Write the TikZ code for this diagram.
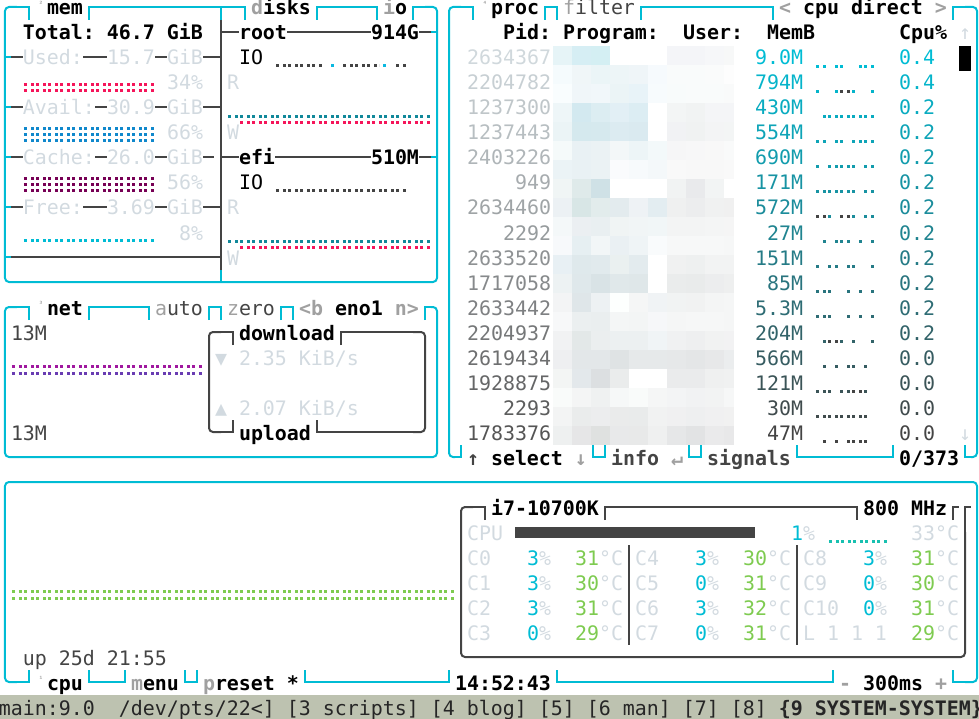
\documentclass[tikz,border=0pt]{standalone}
\usepackage{fontspec}
\setmainfont{DejaVu Sans Mono}
\definecolor{cyl}{HTML}{00BCD4}
\definecolor{dk}{HTML}{444444}
\definecolor{lt}{HTML}{D2DAE0}
\definecolor{tg}{HTML}{A0A0A0}
\definecolor{grn}{HTML}{7ECB50}
\definecolor{pidhi}{HTML}{D0D8DC}
\definecolor{pidlo}{HTML}{555555}
\definecolor{rdm}{HTML}{F5155A}
\definecolor{blm}{HTML}{1088CC}
\definecolor{pum}{HTML}{770055}
\definecolor{tlm}{HTML}{11889A}
\definecolor{mgm}{HTML}{A0189F}
\definecolor{vim}{HTML}{693CB2}
\definecolor{tcm}{HTML}{18C0B0}
\definecolor{bar}{HTML}{BDC2B0}
\tikzset{
  cy/.style={draw=cyl,line width=2pt},
  cyr/.style={cy,rounded corners=4pt},
  gy/.style={draw=dk,line width=2pt},
  gyr/.style={gy,rounded corners=4pt},
  tt/.style={inner sep=0pt,outer sep=0pt,anchor=base west,font=\fontsize{19.93}{24}\selectfont\frenchspacing},
  tte/.style={tt,anchor=base east},
  px/.style={x=1pt,y=-1pt,xshift=-5pt,yshift=7pt},
  suptxt/.style={inner sep=0pt,anchor=base,text=tg,font=\fontsize{7}{8}\selectfont\bfseries},
}
\newcounter{tn}
\newcommand\tx[3]{\stepcounter{tn}\node[tt,name=t\thetn] at (#1-.5,#2+.32) {#3};}
\newcommand\tr[3]{\stepcounter{tn}\node[tte,name=t\thetn] at (#1+.5,#2+.32) {#3};}
\newcommand\topseg[4][cy]{\draw[#1] (#2,#4+.52)--(#2,#4)--(#3,#4)--(#3,#4+.52);}
\newcommand\botseg[4][cy]{\draw[#1] (#2,#4-.48)--(#2,#4)--(#3,#4)--(#3,#4-.48);}
\newcommand\ltx[1]{\textcolor{lt}{#1}}
\newcommand\gr[1]{\textcolor{tg}{\textbf{#1}}}
\newcommand\dg[1]{\textcolor{dk}{#1}}
\newcommand\dotline[4]{\draw[#1,line width=3pt,dash pattern=on 3pt off 4pt on 3pt off 2pt] (#2,#4)--(#3,#4);}
\newcommand\spk[2]{\foreach \k in {#2}{\pgfmathsetmacro\xx{815.8+12*int(\k/2)+7*mod(\k,2)}\pgfmathsetmacro\yy{64.8+25*(#1-2)}\fill[spc] (\xx,\yy) rectangle +(3,3);}}
\newcommand\spr[2]{\pgfmathtruncatemacro\mx{100*(17-#1)/15}\colorlet{spc}{cyl!\mx!dk}\spk{#1}{#2}}
\newcommand\mzrow[2]{\foreach \cc [count=\i from 0] in {#2}{%
    \definecolor{mz}{HTML}{\cc}%
    \pgfmathsetmacro\xa{553+19*\i}%
    \pgfmathsetmacro\xb{\i==9?734:553+19*(\i+1)}%
    \pgfmathsetmacro\ya{46+19*#1}%
    \fill[mz] (\xa,\ya) rectangle (\xb,\ya+19);}}
\newcommand\core[5]{\tx{#1}{#2}{\ltx{#3}}\tx{#1+5}{#2}{\textcolor{cyl}{#4}\ltx{\%}}\tx{#1+9}{#2}{\textcolor{grn}{#5}\ltx{°C}}}
\begin{document}
\begin{tikzpicture}[x=12pt,y=-25pt]
\useasboundingbox (-5/12,-7/25) rectangle (974/12,712/25);
\begin{scope}[px]
\fill[bar] (0,695) rectangle (979,719);
% blurred program and user columns
\mzrow{0}{E6F4F7,D6EEF4,D4EFF3,FFFFFF,FFFFFF,FFFFFF,F4F5F8,F4F5F8,F6F7F9,F7F8F8}
\mzrow{1}{F5FBFD,F0F6F8,EBF5F7,EDF5F7,EFF5F8,F6FAFD,F9FBFB,F9FBFB,FAFBFB,FDFDFD}
\mzrow{2}{F9FDFE,F0F6F9,F1F7FA,EBF4F6,E8F3F8,F7FBFD,F8FBFB,F9FBFB,F9FBFB,F9FAFA}
\mzrow{3}{EEF6F8,D3E9F0,DCEDF2,E2EFF5,DCEDF3,FFFFFF,F3F5F5,F1F3F3,F4F5F7,F4F5F7}
\mzrow{4}{EBF4F6,D5E9EE,D6E9EE,DCEBF1,DAEAF0,FFFFFF,F1F2F4,F0F2F2,F3F4F5,F3F5F5}
\mzrow{5}{F5FAFA,E9F1F4,EBF2F4,F3F7F8,EDF5F7,F3F9FA,F6F6F7,F7F7F8,F8F8F8,F9FAFA}
\mzrow{6}{EBF3F6,E9F1F4,EBF2F4,FAFBFD,F7FAFC,F4F8FA,F9F9F9,F8F8F8,F8F8F8,F9F9F9}
\mzrow{7}{F0F5F5,DFEAEA,CFE1E6,FFFFFF,FFFFFF,FFFFFF,F1F3F3,E9EAEC,F2F4F4,FFFFFF}
\mzrow{8}{ECF1F4,D8E6E6,E2ECEC,E3EBEE,EEF2F5,E3EDF1,EFF0F0,ECEDEE,F0F1F1,F0F0F0}
\mzrow{9}{F4F8F9,EBEFF2,E9EFF1,F0F4F4,F1F5F6,F1F6F7,F3F4F4,F3F4F4,F4F5F5,F5F5F5}
\mzrow{10}{F7F9FB,E6EFF2,F2F6F7,EAF0F3,EFF4F6,F9FBFC,F7F8F8,F7F8F8,F7F8F8,F6F7F7}
\mzrow{11}{E8F0F4,DFE9EC,E1EAED,EAF0F0,E3EBEE,FFFFFF,F0F1F1,EEF0F0,F2F3F3,F2F3F3}
\mzrow{12}{EDF2F3,DFE8EB,D9E3E6,E0E8EA,DFE7E9,FFFFFF,EAECEC,E9EBEB,ECEDEE,EEEFEF}
\mzrow{13}{F3F4F5,DFE6E9,EDF1F3,FDFFFE,F5F6F6,F0F3F5,F1F3F3,F1F2F2,F4F5F5,F5F6F6}
\mzrow{14}{F7F8F9,EBEFF0,EAEEEF,F4F6F6,F3F5F5,F6F7F9,F5F6F6,F6F7F7,F6F7F7,F5F6F6}
\mzrow{15}{F1F2F3,E3E8E8,EBEEEF,ECF0F1,ECF0F1,F0F4F6,F0F1F2,EEEFF0,F1F2F2,F2F2F3}
\mzrow{16}{EEEFF1,E3E7E9,E3E7E9,DFE3E4,E6E9EA,E6E9EA,E6E8E9,E4E6E7,E7E8E9,EBEDEE}
\mzrow{17}{F3F5F4,E3E8EB,DCDFE1,EAECEC,FFFFFF,FFFFFF,EAEBEC,EAEBEC,EFF0F0,F0F1F1}
\mzrow{18}{F9FBFA,F4F5F5,EFF1F1,F6F8F8,F9FBFA,F5F6F6,F3F4F5,F1F2F3,F2F3F3,F6F7F7}
\mzrow{19}{F3F4F4,EAECEC,ECEDEE,EAEBEB,E9EBEB,F1F2F2,F0F0F1,EEEFF0,F0F0F1,F1F1F1}
\mzrow{20}{EEF0F0,E6E6E7,DFE1E0,E8E9EA,E8E9E9,EFF0F0,E6E7E8,E2E3E4,EAEAEB,E8E8E9}
% braille meters
\dotline{rdm}{24}{155}{85}\dotline{rdm}{24}{155}{91}
\dotline{blm}{24}{155}{129}\dotline{blm}{24}{155}{135}\dotline{blm}{24}{155}{141}
\dotline{pum}{24}{155}{179}\dotline{pum}{24}{155}{185}\dotline{pum}{24}{155}{191}
\dotline{cyl}{24}{155}{241}
\dotline{dk}{276}{323}{66}\dotline{blm!60!cyan}{331}{334}{66}\dotline{dk}{343}{379}{66}\dotline{blm!60!cyan}{383}{386}{66}\dotline{dk}{396}{407}{66}
\dotline{dk}{276}{407}{191}
\dotline{tlm}{228}{431}{117}\dotline{rdm}{240}{431}{123}
\dotline{tlm}{228}{431}{242}\dotline{rdm}{240}{431}{248}
\dotline{mgm}{12}{203}{366}\dotline{vim}{12}{203}{373}
\dotline{grn}{12}{455}{591}\dotline{grn}{12}{455}{598}
\dotline{tcm}{829}{888}{541}
\foreach \i in {0,...,19}{\fill[dk] (515.3+12*\i,527) rectangle +(11.5,11);}
\fill[black] (959,46) rectangle (971,71);
% process graphs
\spr{2}{0,1,3,4,7,8,9}\spr{3}{0,3,6,9}\spr{4}{1,2,3,4,5,6,7,8,9}\spr{5}{0,1,3,4,6,7,8,9}
\spr{6}{0,2,3,4,5,6,8,9}\spr{7}{0,1,2,3,4,5,6,8,9}\spr{8}{2,6,8,9}\spr{9}{1,3,4,5,7,9}
\spr{10}{0,2,3,5,6,9}\spr{11}{0,1,2,5,7,9}\spr{12}{0,1,2,5,7,9}\spr{13}{1,4,6,9}
\spr{14}{1,3,5,6,8}\spr{15}{0,1,2,4,5,8}\spr{16}{0,1,2,3,4,5,6,7,8}
\colorlet{spc}{dk}
\spk{3}{4,5}\spk{8}{0,1,4,5}\spk{13}{2,3}\spk{15}{6,7}\spk{17}{1,3,5,6,7,8}
\end{scope}

% mem and disks box
\draw[cyr] (1,0)--(0,0)--(0,11)--(36,11)--(36,0)--(35,0);
\draw[cy] (2,.52)--(2,0)--(1,0);
\draw[cy] (34,.52)--(34,0)--(35,0);
\topseg{7}{20}{0}\topseg{26}{31}{0}
\draw[cy] (18,0)--(18,.52);
\draw[gy] (18,.52)--(18,10.52);
\draw[cy] (18,10.52)--(18,11);
\foreach \r in {2,4,6,8,10}{\draw[cy] (0,\r)--(.5,\r);}
\foreach \r in {1,6}{\draw[cy] (35.5,\r)--(36,\r);}
\foreach \r in {2,4,6,8}{\draw[gy] (.5,\r)--(1.5,\r);\draw[gy] (12.5,\r)--(13.5,\r);}
\foreach \r in {2,8}{\draw[gy] (6.5,\r)--(8.5,\r);\draw[gy] (16.5,\r)--(18,\r);}
\draw[gy] (7.5,4)--(8.5,4);\draw[gy] (16.5,4)--(18,4);
\draw[gy] (7.5,6)--(8.5,6);\draw[gy] (16.5,6)--(17.4,6);
\draw[gy] (.5,10)--(18,10);
\draw[gy] (18,1)--(19.5,1);\draw[gy] (23.5,1)--(30.5,1);\draw[gy] (34.5,1)--(35.5,1);
\draw[gy] (18,6)--(19.5,6);\draw[gy] (22.5,6)--(30.5,6);\draw[gy] (34.5,6)--(35.5,6);
% net box
\draw[cyr] (1,12)--(0,12)--(0,18)--(36,18)--(36,12)--(35.5,12);
\draw[cy] (2,12.52)--(2,12)--(1,12);
\draw[cy] (35,12.52)--(35,12)--(35.5,12);
\topseg{7}{12}{12}\topseg{17}{18}{12}\topseg{23}{24}{12}
\draw[gyr] (18,13)--(17,13)--(17,17)--(18,17);
\draw[gy] (19,13.52)--(19,13)--(18,13);
\draw[gy] (19,16.52)--(19,17)--(18,17);
\draw[gyr] (34,13)--(35,13)--(35,17)--(34,17);
\draw[gy] (28,13.52)--(28,13)--(34,13);
\draw[gy] (26,16.52)--(26,17)--(34,17);
% proc box
\draw[cyr] (38,0)--(37,0)--(37,18)--(37.5,18);
\draw[cy] (39,.52)--(39,0)--(38,0);
\draw[cy] (37.5,18)--(38,18)--(38,17.52);
\draw[cyr] (80.5,18)--(81,18)--(81,0)--(80,0);
\draw[cy] (79,.52)--(79,0)--(80,0);
\draw[cy] (80,17.52)--(80,18)--(80.5,18);
\topseg{45}{46}{0}\topseg{53}{64}{0}
\botseg{49}{50}{18}\botseg{57}{58}{18}\botseg{66}{74}{18}
% cpu box
\draw[cyr] (1,27)--(0,27)--(0,19)--(81,19)--(81,27)--(80,27);
\draw[cy] (2,26.52)--(2,27)--(1,27);
\draw[cy] (79,26.52)--(79,27)--(80,27);
\botseg{7}{10}{27}\botseg{15}{16}{27}\botseg{25}{37}{27}\botseg{46}{69}{27}
% inner cpu box
\draw[gyr] (39,20)--(38,20)--(38,26)--(80,26)--(80,21);
\draw[gy] (40,20.52)--(40,20)--(39,20);
\draw[gy] (80,21)--(80,20)--(80.5,20);
\draw[gy] (79,20.52)--(79,20)--(79.5,20);
\topseg[gy]{50}{71}{20}
\draw[gy] (52,21.52)--(52,25.52);
\draw[gy] (66,21.52)--(66,25.52);

% mem texts
\node[suptxt,name=supmem] at (3,-.016) {²};
\tx{4}{0}{\textbf{mem}}
\tx{21}{0}{\gr{d}\textbf{isks}}
\tx{32}{0}{\gr{i}\textbf{o}}
\tx{2}{1}{\textbf{Total: 46.7 GiB}}
\tx{2}{2}{\ltx{Used:}}\tx{9}{2}{\ltx{15.7}}\tx{14}{2}{\ltx{GiB}}\tr{16}{3}{\ltx{34\%}}
\tx{2}{4}{\ltx{Avail:}}\tx{9}{4}{\ltx{30.9}}\tx{14}{4}{\ltx{GiB}}\tr{16}{5}{\ltx{66\%}}
\tx{2}{6}{\ltx{Cache:}}\tx{9}{6}{\ltx{26.0}}\tx{14}{6}{\ltx{GiB}}\tr{16}{7}{\ltx{56\%}}
\tx{2}{8}{\ltx{Free:}}\tx{9}{8}{\ltx{3.69}}\tx{14}{8}{\ltx{GiB}}\tr{16}{9}{\ltx{8\%}}
% disks texts
\tx{20}{1}{\textbf{root}}\tx{31}{1}{\textbf{914G}}\tx{20}{2}{IO}
\tx{19}{3}{\ltx{R}}\tx{19}{5}{\ltx{W}}
\tx{20}{6}{\textbf{efi}}\tx{31}{6}{\textbf{510M}}\tx{20}{7}{IO}
\tx{19}{8}{\ltx{R}}\tx{19}{10}{\ltx{W}}
% net texts
\node[suptxt,name=supnet] at (3,11.984) {³};
\tx{4}{12}{\textbf{net}}
\tx{13}{12}{\textcolor{tg}{a}\dg{uto}}
\tx{19}{12}{\textcolor{tg}{z}\dg{ero}}
\tx{25}{12}{\gr{<b} \textbf{eno1} \gr{n>}}
\tx{1}{13}{\dg{13M}}\tx{1}{17}{\dg{13M}}
\tx{20}{13}{\textbf{download}}\tx{20}{17}{\textbf{upload}}
\tx{18}{14}{\ltx{▼}}\tx{20}{14}{\ltx{2.35 KiB/s}}
\tx{18}{16}{\ltx{▲}}\tx{20}{16}{\ltx{2.07 KiB/s}}
% proc texts
\node[suptxt,name=supproc] at (40,-.016) {⁴};
\tx{41}{0}{\textbf{proc}}
\tx{47}{0}{\textcolor{tg}{f}\dg{ilter}}
\tx{65}{0}{\gr{<} \textbf{cpu direct} \gr{>}}
\tx{42}{1}{\textbf{Pid:}}\tx{47}{1}{\textbf{Program:}}\tx{57}{1}{\textbf{User:}}\tx{64}{1}{\textbf{MemB}}\tx{75}{1}{\textbf{Cpu\%}}
\tx{80}{1}{\ltx{↑}}\tx{80}{17}{\ltx{↓}}
\foreach \p/\m/\c [count=\r from 2] in {2634367/9.0M/0.4,2204782/794M/0.4,1237300/430M/0.2,1237443/554M/0.2,2403226/690M/0.2,949/171M/0.2,2634460/572M/0.2,2292/27M/0.2,2633520/151M/0.2,1717058/85M/0.2,2633442/5.3M/0.2,2204937/204M/0.2,2619434/566M/0.0,1928875/121M/0.0,2293/30M/0.0,1783376/47M/0.0}{
  \pgfmathtruncatemacro\mx{100*(17-\r)/15}
  \colorlet{pc}{pidhi!\mx!pidlo}
  \colorlet{gc}{cyl!\mx!dk}
  \tr{45}{\r}{\textcolor{pc}{\p}}
  \tr{66}{\r}{\textcolor{gc}{\m}}
  \tx{75}{\r}{\textcolor{gc}{\c}}
}
\tx{39}{18}{\textcolor{dk}{\textbf{↑}} \textbf{select} \gr{↓}}
\tx{51}{18}{\dg{\textbf{info}} \gr{↵}}
\tx{59}{18}{\dg{\textbf{signals}}}
\tx{75}{18}{\textbf{0/373}}
% cpu texts
\tx{41}{20}{\textbf{i7-10700K}}\tx{72}{20}{\textbf{800 MHz}}
\tx{39}{21}{\ltx{CPU}}\tx{66}{21}{\textcolor{cyl}{1}\ltx{\%}}\tx{76}{21}{\ltx{33°C}}
\core{39}{22}{C0}{3}{31}\core{39}{23}{C1}{3}{30}\core{39}{24}{C2}{3}{31}\core{39}{25}{C3}{0}{29}
\core{53}{22}{C4}{3}{30}\core{53}{23}{C5}{0}{31}\core{53}{24}{C6}{3}{32}\core{53}{25}{C7}{0}{31}
\core{67}{22}{C8}{3}{31}\core{67}{23}{C9}{0}{30}\core{67}{24}{C10}{0}{31}
\tx{67}{25}{\ltx{L 1 1 1}}\tx{76}{25}{\textcolor{grn}{29}\ltx{°C}}
\tx{2}{26}{\dg{up 25d 21:55}}
\node[suptxt,name=supcpu] at (3,26.984) {¹};
\tx{4}{27}{\textbf{cpu}}
\tx{11}{27}{\gr{m}\textbf{enu}}
\tx{17}{27}{\gr{p}\textbf{reset *}}
\tx{38}{27}{\textbf{14:52:43}}
\tx{70}{27}{\gr{-} \textbf{300ms} \gr{+}}
\tx{0}{28}{\textcolor{black!85}{main:9.0\ \ /dev/pts/22<] [3 scripts] [4 blog] [5] [6 man] [7] [8] \textbf{\{9 SYSTEM-SYSTEM\}}}}
\end{tikzpicture}
\end{document}
